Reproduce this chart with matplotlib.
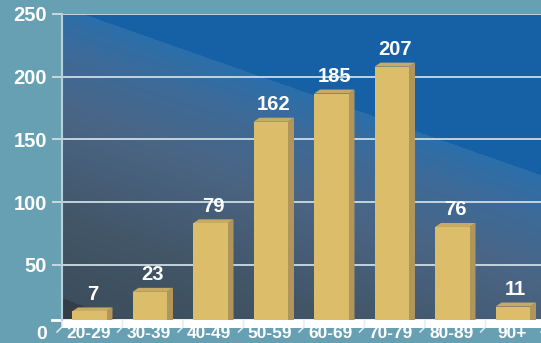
import numpy as np
import matplotlib.pyplot as plt
from matplotlib.colors import to_rgb
from matplotlib.transforms import blended_transform_factory

plt.rcParams['font.family'] = ['Liberation Sans', 'DejaVu Sans']
plt.rcParams['font.weight'] = 'bold'

# data
categories = ['20-29', '30-39', '40-49', '50-59', '60-69', '70-79', '80-89', '90+']
values = [7, 23, 79, 162, 185, 207, 76, 11]
yticks = [50, 100, 150, 200, 250]

W, H = 541, 343
BG = '#68a0b3'
GRID = '#cddde6'
FRONT, SIDE, TOP = '#dcbd69', '#b0965a', '#c8ab62'


def frame(x0, y0, x1, y1):
    # pixel box (top-down) -> figure fraction
    return [x0 / W, 1 - y1 / H, (x1 - x0) / W, (y1 - y0) / H]


fig = plt.figure(figsize=(W / 100, H / 100), dpi=100, facecolor=BG)
back = fig.add_axes(frame(62, 14, 546, 327.75))
ax = fig.add_axes(frame(62, 14, 546, 320))
ax.set_facecolor('none')

# background wall: blue wedge + soft gradient
xs = np.arange(62, 546) + 0.5
ys = np.arange(14, 320) + 0.5
X, Y = np.meshgrid(xs, ys)
d = (Y - (14 + (X - 83) * 0.352)) / np.hypot(1, 0.352)
stops = [0, 40, 100, 200, 300]
cols = [to_rgb(c) for c in ['#2b6fab', '#3d6b99', '#4a6585', '#425668', '#3b4c59']]
img = np.zeros(X.shape + (3,))
for k in range(3):
    img[..., k] = np.interp(d, stops, [c[k] for c in cols])
img[d < 0] = to_rgb('#1660a6')
img[Y > 298 + (X - 62) * (22 / 58)] = to_rgb('#333e48')
back.imshow(img, extent=(0, 1, 0, 1), transform=ax.transAxes, aspect='auto',
            interpolation='bilinear', zorder=0)

back.set_xlim(-0.5, 7.5)
back.set_ylim(0, 250)
back.set_xticks([])
back.set_yticks(yticks)
back.set_yticklabels([str(t) for t in yticks], fontsize=14.5, color='white', fontweight='bold')
back.tick_params(axis='y', length=7.2, width=1.3, color=GRID, pad=3.6)
back.grid(axis='y', color=GRID, lw=1.3)
for s in back.spines.values():
    s.set_visible(False)

ax.set_xlim(-0.5, 7.5)
ax.set_ylim(0, 250)
ax.set_xticks([])
ax.set_yticks([])
for s in ['top', 'right', 'bottom']:
    ax.spines[s].set_visible(False)
ax.spines['left'].set_color('#b9cfdc')
ax.spines['left'].set_linewidth(1.5)

# floor line and depth ticks
bt = blended_transform_factory(ax.transData, ax.transAxes)
ax.plot([-10 / 484, 1], [0, 0], transform=ax.transAxes, color='white', lw=2, clip_on=False)
for b in np.arange(-0.5, 8.5):
    ax.plot([b, b, b - 5 / 60.5], [0, -7 / 306, -12 / 306], transform=bt,
            color='#e2edf2', lw=1.1, clip_on=False)
ax.annotate('0', xy=(0, 0), xycoords='axes fraction', xytext=(-10.8, -10.2),
            textcoords='offset points', ha='right', va='center', fontsize=14,
            color='white', fontweight='bold')

# 3d bars
bw = 34.5 / 60.5
dx = 6 / 60.5
dy = 4 / (306 / 250)
for i, (lab, v) in enumerate(zip(categories, values)):
    xc = i - 3 / 60.5
    xl, xr = xc - bw / 2, xc + bw / 2
    ax.bar(xc, v, width=bw, color=FRONT, zorder=3)
    ax.fill([xr, xr, xr + dx, xr + dx], [0, v, v + dy, 0], color=SIDE, zorder=2, lw=0)
    ax.fill([xl, xr, xr + dx, xl + dx], [v, v, v + dy, v + dy], color=TOP, zorder=2, lw=0)
    ax.annotate(str(v), xy=(xc + dx / 2, v), xytext=(0, 8.3), textcoords='offset points',
                ha='center', va='baseline', fontsize=14.5, color='white', fontweight='bold')
    ax.annotate(lab, xy=(i, 0), xycoords=bt, xytext=(-2.9, -9.4), textcoords='offset points',
                ha='center', va='center', fontsize=12.5, color='white', fontweight='bold',
                annotation_clip=False)

fig.savefig('out.png', dpi=100, facecolor=BG)
